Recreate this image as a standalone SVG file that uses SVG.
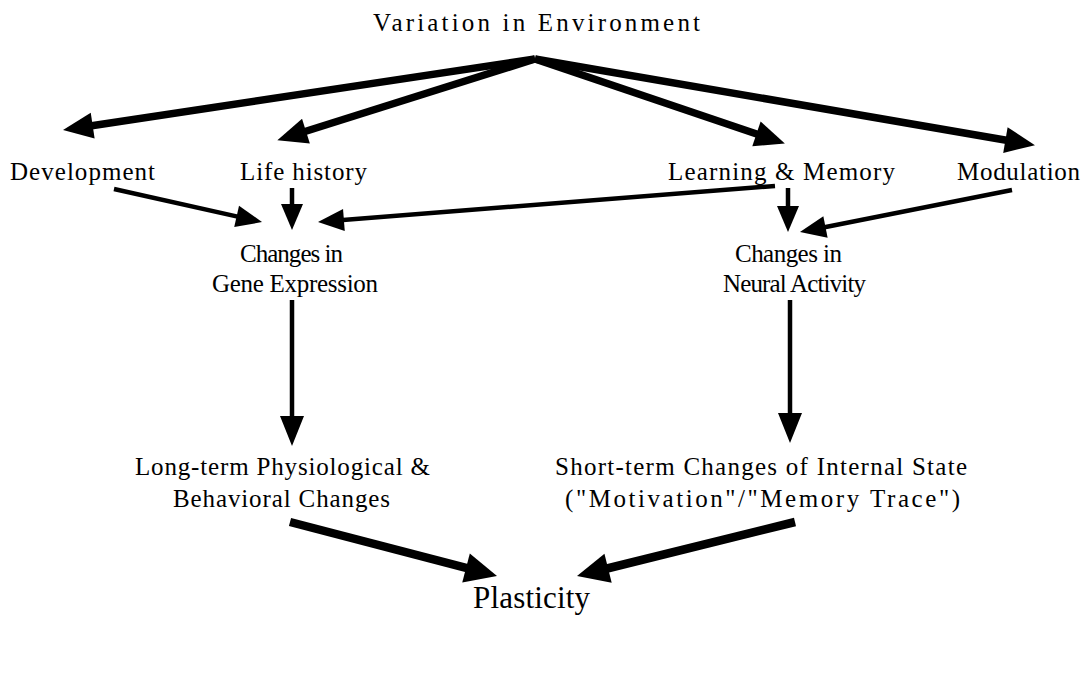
<svg xmlns="http://www.w3.org/2000/svg" width="1086" height="673" viewBox="0 0 1086 673">
<style>
text{font-family:"Liberation Serif","Times New Roman",serif;fill:#000;font-size:25px}
.big{font-size:31px}
.c line{stroke:#000;stroke-linecap:butt}
.t1{stroke-width:7.5}
.t2{stroke-width:4.5}
.t3{stroke-width:8.5}
</style>
<defs>
<marker id="h1" markerUnits="userSpaceOnUse" markerWidth="40" markerHeight="40" refX="1" refY="0" orient="auto" viewBox="0 -20 40 40" overflow="visible"><path d="M0,-13 L30,0 L0,13 Z" fill="#000"/></marker>
<marker id="h2" markerUnits="userSpaceOnUse" markerWidth="40" markerHeight="40" refX="1" refY="0" orient="auto" viewBox="0 -20 40 40" overflow="visible"><path d="M0,-11 L26,0 L0,11 Z" fill="#000"/></marker>
<marker id="h4" markerUnits="userSpaceOnUse" markerWidth="40" markerHeight="40" refX="1" refY="0" orient="auto" viewBox="0 -20 40 40" overflow="visible"><path d="M0,-12 L30,0 L0,12 Z" fill="#000"/></marker>
<marker id="h3" markerUnits="userSpaceOnUse" markerWidth="40" markerHeight="40" refX="1" refY="0" orient="auto" viewBox="0 -20 40 40" overflow="visible"><path d="M0,-15 L32,0 L0,15 Z" fill="#000"/></marker>
</defs>
<rect width="1086" height="673" fill="#fff"/>
<g id="variation"><text x="373" y="31" textLength="327" lengthAdjust="spacing" font-size="28">Variation in Environment</text></g>
<g id="development"><text x="10" y="180" textLength="145" lengthAdjust="spacing">Development</text></g>
<g id="lifehistory"><text x="240" y="180" textLength="127" lengthAdjust="spacing">Life history</text></g>
<g id="learning"><text x="668" y="180" textLength="227" lengthAdjust="spacing">Learning &amp; Memory</text></g>
<g id="modulation"><text x="957" y="180" textLength="123" lengthAdjust="spacing">Modulation</text></g>
<g id="gene"><text x="240" y="262" textLength="103" lengthAdjust="spacing">Changes in</text><text x="212" y="292" textLength="166" lengthAdjust="spacing">Gene Expression</text></g>
<g id="neural"><text x="735" y="262" textLength="107" lengthAdjust="spacing">Changes in</text><text x="723" y="292" textLength="143" lengthAdjust="spacing">Neural Activity</text></g>
<g id="longterm"><text x="135" y="475" textLength="295" lengthAdjust="spacing">Long-term Physiological &amp;</text><text x="173" y="507" textLength="217" lengthAdjust="spacing">Behavioral Changes</text></g>
<g id="shortterm"><text x="555" y="475" textLength="412" lengthAdjust="spacing">Short-term Changes of Internal State</text><text x="565" y="507" textLength="395" lengthAdjust="spacing">("Motivation"/"Memory Trace")</text></g>
<g id="plasticity"><text x="473" y="608" class="big" textLength="117" lengthAdjust="spacing">Plasticity</text></g>
<g id="connectors" class="c">
<line class="t1" x1="535" y1="59" x2="91.7" y2="125.7" marker-end="url(#h1)"/>
<line class="t1" x1="535" y1="59" x2="305" y2="131.5" marker-end="url(#h1)"/>
<line class="t1" x1="535" y1="59" x2="757.4" y2="134.2" marker-end="url(#h1)"/>
<line class="t1" x1="535" y1="59" x2="1006.4" y2="140.3" marker-end="url(#h1)"/>
<line class="t2" x1="114" y1="189" x2="237.6" y2="216.6" marker-end="url(#h2)"/>
<line class="t2" x1="292" y1="188" x2="292" y2="205" marker-end="url(#h2)"/>
<line class="t2" x1="775" y1="186" x2="342.9" y2="220" marker-end="url(#h2)"/>
<line class="t2" x1="788" y1="188" x2="788" y2="207" marker-end="url(#h2)"/>
<line class="t2" x1="1012" y1="190" x2="824.5" y2="227.2" marker-end="url(#h2)"/>
<line class="t2" x1="292" y1="300" x2="292" y2="417" marker-end="url(#h4)"/>
<line class="t2" x1="790" y1="300" x2="790" y2="414" marker-end="url(#h4)"/>
<line class="t3" x1="290" y1="522" x2="467" y2="568.2" marker-end="url(#h3)"/>
<line class="t3" x1="795" y1="522" x2="607.1" y2="568.5" marker-end="url(#h3)"/>
</g>
</svg>
